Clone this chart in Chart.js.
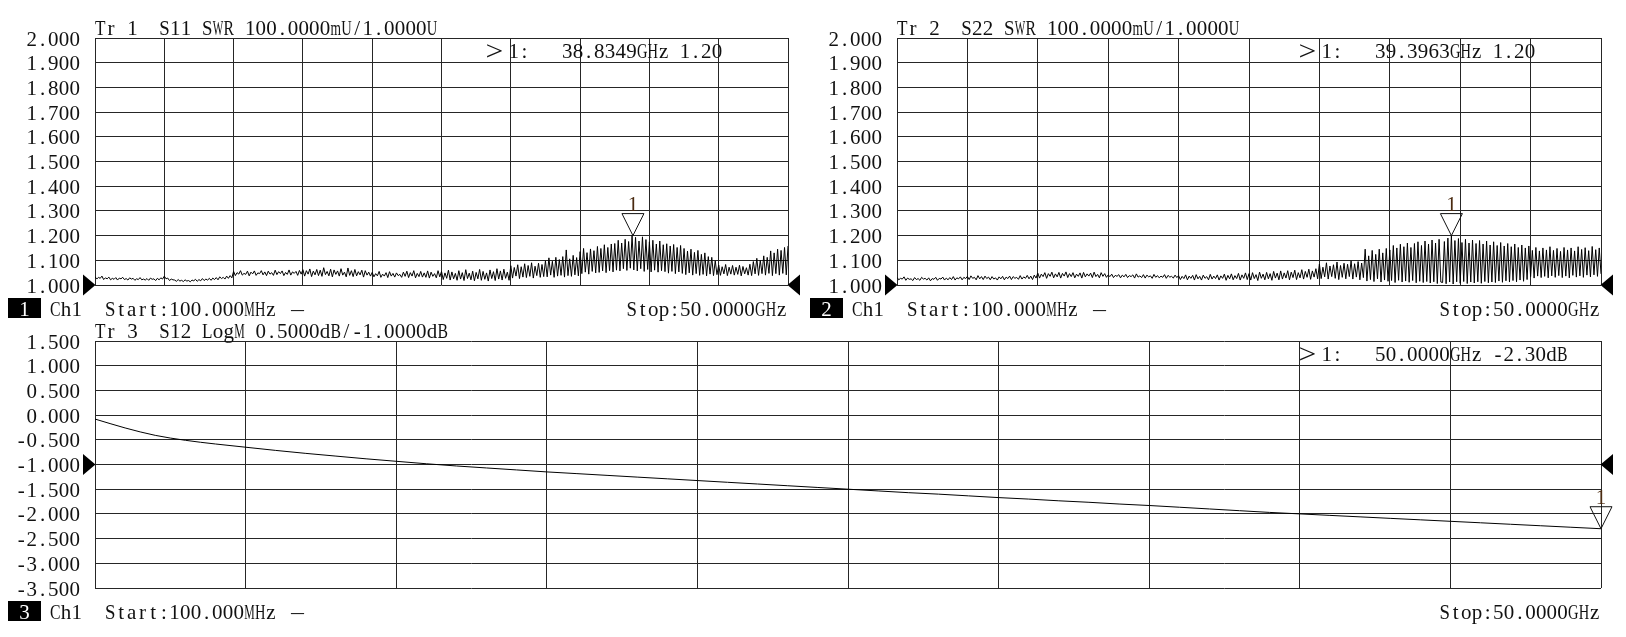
<!DOCTYPE html>
<html><head><meta charset="utf-8">
<script src="https://cdn.jsdelivr.net/npm/chart.js@4.4.1/dist/chart.umd.min.js"></script>
<style>
html,body{margin:0;padding:0;background:#fff;}
#wrap{position:relative;width:1626px;height:637px;overflow:hidden;background:#fff}
canvas{position:absolute;left:0;top:0}
</style></head><body>
<div id="wrap">
<canvas id="c1" width="1626" height="637"></canvas>
<canvas id="c2" width="1626" height="637"></canvas>
<canvas id="c3" width="1626" height="637"></canvas>
</div>
<script>
// ---- sweep ----
const startGHz = 0.1;
const stopGHz = 50.0;

// ---- Tr 1 : S11 SWR (401 points) ----
const s11Swr = [
1.034,1.024,1.031,1.027,1.036,1.022,1.029,1.025,1.032,1.021,
1.027,1.023,1.030,1.020,1.028,1.025,1.031,1.022,1.026,1.020,
1.029,1.024,1.027,1.019,1.025,1.022,1.030,1.021,1.024,1.020,
1.026,1.019,1.028,1.023,1.025,1.018,1.027,1.021,1.029,1.024,
1.036,1.025,1.028,1.018,1.024,1.021,1.020,1.015,1.022,1.016,
1.019,1.014,1.021,1.016,1.018,1.013,1.020,1.017,1.023,1.015,
1.022,1.017,1.026,1.018,1.024,1.020,1.027,1.019,1.028,1.022,
1.030,1.021,1.033,1.026,1.031,1.024,1.036,1.027,1.038,1.029,
1.055,1.038,1.050,1.044,1.058,1.040,1.047,1.043,1.056,1.037,
1.052,1.045,1.057,1.039,1.049,1.046,1.058,1.041,1.053,1.038,
1.056,1.044,1.050,1.039,1.060,1.042,1.054,1.046,1.057,1.038,
1.051,1.043,1.061,1.040,1.053,1.047,1.055,1.039,1.059,1.044,
1.062,1.036,1.058,1.044,1.065,1.034,1.056,1.041,1.063,1.038,
1.060,1.035,1.070,1.042,1.055,1.037,1.064,1.033,1.061,1.043,
1.057,1.036,1.066,1.040,1.052,1.033,1.069,1.039,1.058,1.034,
1.063,1.037,1.054,1.041,1.060,1.032,1.058,1.040,1.052,1.036,
1.051,1.033,1.046,1.037,1.055,1.031,1.044,1.036,1.050,1.030,
1.054,1.036,1.047,1.032,1.049,1.038,1.043,1.031,1.052,1.035,
1.056,1.030,1.050,1.036,1.058,1.029,1.047,1.034,1.055,1.032,
1.049,1.031,1.057,1.028,1.052,1.035,1.046,1.029,1.058,1.033,
1.055,1.022,1.049,1.027,1.060,1.020,1.053,1.025,1.047,1.019,
1.058,1.024,1.050,1.018,1.062,1.026,1.048,1.021,1.056,1.017,
1.051,1.025,1.063,1.019,1.055,1.023,1.049,1.016,1.061,1.026,
1.054,1.018,1.066,1.024,1.057,1.020,1.064,1.027,1.052,1.019,
1.078,1.028,1.071,1.036,1.082,1.026,1.074,1.032,1.086,1.030,
1.079,1.035,1.090,1.028,1.076,1.038,1.088,1.031,1.083,1.034,
1.098,1.033,1.110,1.040,1.096,1.031,1.112,1.036,1.103,1.039,
1.115,1.032,1.142,1.038,1.106,1.035,1.120,1.041,1.111,1.037,
1.135,1.046,1.148,1.052,1.131,1.044,1.146,1.055,1.139,1.049,
1.156,1.051,1.148,1.057,1.163,1.050,1.152,1.058,1.166,1.053,
1.168,1.060,1.181,1.057,1.170,1.066,1.185,1.059,1.176,1.068,
1.200,1.061,1.193,1.057,1.178,1.066,1.195,1.055,1.184,1.063,
1.175,1.053,1.181,1.060,1.166,1.052,1.178,1.058,1.163,1.054,
1.167,1.048,1.158,1.055,1.164,1.046,1.152,1.053,1.160,1.047,
1.148,1.042,1.137,1.049,1.145,1.040,1.132,1.046,1.140,1.039,
1.124,1.043,1.130,1.037,1.115,1.044,1.112,1.038,1.098,1.042,
1.081,1.039,1.074,1.045,1.083,1.038,1.072,1.044,1.079,1.040,
1.072,1.043,1.080,1.037,1.075,1.045,1.070,1.040,1.084,1.038,
1.095,1.045,1.108,1.039,1.100,1.046,1.118,1.040,1.112,1.047,
1.138,1.038,1.130,1.046,1.145,1.040,1.140,1.047,1.152,1.041,
1.158];

// ---- Tr 2 : S22 SWR (401 points) ----
const s22Swr = [
1.031,1.021,1.027,1.024,1.033,1.019,1.028,1.023,1.025,1.018,
1.030,1.022,1.026,1.019,1.031,1.024,1.027,1.020,1.029,1.017,
1.026,1.023,1.031,1.019,1.027,1.024,1.032,1.020,1.028,1.021,
1.030,1.022,1.034,1.020,1.029,1.025,1.033,1.021,1.031,1.026,
1.035,1.022,1.037,1.027,1.031,1.021,1.038,1.025,1.034,1.022,
1.036,1.026,1.032,1.021,1.034,1.024,1.029,1.020,1.033,1.025,
1.035,1.021,1.032,1.026,1.036,1.022,1.034,1.027,1.031,1.023,
1.038,1.024,1.033,1.027,1.039,1.025,1.036,1.022,1.040,1.028,
1.048,1.028,1.044,1.034,1.050,1.027,1.046,1.035,1.052,1.029,
1.045,1.033,1.051,1.028,1.047,1.036,1.053,1.030,1.046,1.034,
1.050,1.029,1.044,1.035,1.049,1.028,1.051,1.033,1.045,1.036,
1.048,1.030,1.052,1.034,1.043,1.029,1.050,1.035,1.046,1.031,
1.041,1.034,1.044,1.030,1.039,1.035,1.042,1.029,1.040,1.033,
1.043,1.030,1.038,1.034,1.041,1.028,1.045,1.032,1.037,1.030,
1.042,1.028,1.040,1.033,1.037,1.027,1.043,1.031,1.038,1.029,
1.036,1.031,1.042,1.027,1.039,1.032,1.035,1.028,1.040,1.030,
1.038,1.022,1.035,1.026,1.041,1.021,1.036,1.027,1.039,1.020,
1.042,1.025,1.035,1.020,1.040,1.027,1.034,1.021,1.043,1.024,
1.036,1.026,1.041,1.020,1.037,1.027,1.044,1.019,1.039,1.025,
1.045,1.021,1.038,1.026,1.047,1.020,1.041,1.027,1.049,1.022,
1.046,1.020,1.050,1.026,1.042,1.018,1.052,1.027,1.044,1.021,
1.051,1.025,1.046,1.019,1.055,1.028,1.048,1.021,1.057,1.024,
1.049,1.028,1.058,1.021,1.052,1.030,1.060,1.022,1.050,1.029,
1.062,1.024,1.055,1.031,1.064,1.023,1.057,1.032,1.066,1.025,
1.085,1.026,1.072,1.033,1.090,1.024,1.077,1.034,1.082,1.027,
1.093,1.022,1.079,1.031,1.088,1.025,1.084,1.034,1.098,1.024,
1.086,1.032,1.095,1.021,1.089,1.030,1.145,1.016,1.118,1.022,
1.140,1.014,1.124,1.025,1.145,1.012,1.130,1.020,1.148,1.015,
1.142,1.018,1.160,1.010,1.150,1.019,1.165,1.012,1.155,1.016,
1.170,1.011,1.152,1.018,1.168,1.009,1.175,1.015,1.160,1.010,
1.178,1.014,1.166,1.008,1.182,1.013,1.170,1.006,1.185,1.012,
1.010,1.176,1.005,1.190,1.012,1.200,1.004,1.180,1.013,1.188,
1.007,1.172,1.014,1.185,1.006,1.170,1.012,1.182,1.008,1.168,
1.013,1.180,1.007,1.166,1.014,1.178,1.009,1.162,1.012,1.175,
1.010,1.160,1.016,1.172,1.011,1.158,1.017,1.168,1.012,1.155,
1.018,1.166,1.013,1.152,1.020,1.162,1.015,1.150,1.022,1.158,
1.034,1.140,1.028,1.152,1.036,1.138,1.030,1.150,1.035,1.142,
1.029,1.155,1.037,1.140,1.031,1.148,1.038,1.136,1.030,1.152,
1.036,1.142,1.029,1.150,1.039,1.138,1.032,1.155,1.037,1.144,
1.031,1.151,1.040,1.139,1.033,1.156,1.041,1.143,1.035,1.150,
1.045];

// ---- Tr 3 : S12 LogM dB (51 points) ----
const s12LogM = [
-0.08,-0.26,-0.41,-0.51,-0.585,-0.65,-0.715,-0.775,-0.83,-0.885,
-0.935,-0.985,-1.03,-1.07,-1.11,-1.15,-1.185,-1.22,-1.255,-1.29,
-1.325,-1.36,-1.395,-1.43,-1.465,-1.50,-1.535,-1.57,-1.60,-1.635,
-1.67,-1.70,-1.735,-1.765,-1.80,-1.83,-1.865,-1.90,-1.935,-1.97,
-2.00,-2.03,-2.06,-2.09,-2.12,-2.15,-2.18,-2.21,-2.24,-2.27,
-2.30];

// ---- tick labels ----
const swrTickLabels = ['2.000','1.900','1.800','1.700','1.600','1.500','1.400','1.300','1.200','1.100','1.000'];
const logTickLabels = ['1.500','1.000','0.500','0.000','-0.500','-1.000','-1.500','-2.000','-2.500','-3.000','-3.500'];

// ---- markers ----
const markerFreqs = [38.8349, 39.3963, 50.0000];
const markerValues = [1.20, 1.20, -2.30];
const markerTexts = ['>1:   38.8349GHz 1.20', '>1:   39.3963GHz 1.20', '>1:   50.0000GHz -2.30dB'];
const traceTitles = ['Tr 1  S11 SWR 100.0000mU/1.0000U', 'Tr 2  S22 SWR 100.0000mU/1.0000U', 'Tr 3  S12 LogM 0.5000dB/-1.0000dB'];
const refLevels = [1.0, 1.0, -1.0];
const startText = 'Start:100.000MHz';
const stopText = 'Stop:50.0000GHz';

// ---------- drawing helpers ----------
const CW = 10.7;
const FONT = '21px "Liberation Serif"';
function mono(ctx, s, x, y, opt) {
  opt = opt || {};
  ctx.save();
  ctx.font = FONT; ctx.textBaseline = 'alphabetic'; ctx.textAlign = 'left';
  ctx.fillStyle = opt.color || '#111';
  const chars = [...s];
  const cells = chars.map(ch => (ch === '>' || ch === '—') ? 2 : 1);
  const total = cells.reduce((a, b) => a + b, 0) * CW;
  let cx = opt.align === 'right' ? x - total : (opt.align === 'center' ? x - total / 2 : x);
  chars.forEach((ch, k) => {
    const w = cells[k] * CW;
    if (ch !== ' ') {
      const mw = ctx.measureText(ch).width;
      let maxw = w * 0.98;
      if (ch === '—') maxw = 13;
      ctx.save();
      if (ch === '>') {
        ctx.translate(cx - 1.5, y - 7); ctx.scale(1.5, 1.3); ctx.fillText(ch, 0, 7 / 1.3 + 1.5);
      } else if (mw > maxw || ch === '—') {
        ctx.translate(cx + (w - maxw) / 2, y); ctx.scale(maxw / mw, 1); ctx.fillText(ch, 0, 0);
      } else {
        ctx.fillText(ch, cx + (w - mw) / 2, y);
      }
      ctx.restore();
    }
    cx += w;
  });
  ctx.restore();
}

function sweepPoints(vals) {
  const n = vals.length;
  return vals.map((v, i) => ({ x: startGHz + i * (stopGHz - startGHz) / (n - 1), y: v }));
}

const W = 1626, H = 637;
const panels = [
  { id: 'c1', area: { l: 95, t: 38, r: 788, b: 285 }, vals: s11Swr, yMin: 1, yMax: 2, yStep: 0.1, labels: swrTickLabels, k: 0, smooth: false },
  { id: 'c2', area: { l: 897, t: 38, r: 1601, b: 285 }, vals: s22Swr, yMin: 1, yMax: 2, yStep: 0.1, labels: swrTickLabels, k: 1, smooth: false },
  { id: 'c3', area: { l: 95, t: 341, r: 1601, b: 588 }, vals: s12LogM, yMin: -3.5, yMax: 1.5, yStep: 0.5, labels: logTickLabels, k: 2, smooth: true }
];

function makeDecor(p) {
  return {
    id: 'decor' + p.k,
    afterDraw(chart) {
      const ctx = chart.ctx;
      const ca = chart.chartArea;
      const xs = chart.scales.x, ys = chart.scales.y;
      mono(ctx, traceTitles[p.k], ca.left, ca.top - 3);
      p.labels.forEach(l => {
        const yy = ys.getPixelForValue(parseFloat(l));
        mono(ctx, l, ca.left - 15, yy + 7.5, { align: 'right' });
      });
      const sy = ca.bottom + 31;
      ctx.fillStyle = '#000';
      ctx.fillRect(ca.left - 87, ca.bottom + 13, 33, 20);
      mono(ctx, String(p.k + 1), ca.left - 70.5, sy, { align: 'center', color: '#fff' });
      mono(ctx, 'Ch1', ca.left - 45, sy);
      mono(ctx, startText + ' —', ca.left + 10, sy);
      mono(ctx, stopText, ca.right - 1, sy, { align: 'right' });
      const ry = ys.getPixelForValue(refLevels[p.k]);
      ctx.fillStyle = '#000';
      ctx.beginPath(); ctx.moveTo(ca.left - 12, ry - 10.5); ctx.lineTo(ca.left + 0.5, ry); ctx.lineTo(ca.left - 12, ry + 10.5); ctx.closePath(); ctx.fill();
      ctx.beginPath(); ctx.moveTo(ca.right + 12, ry - 10.5); ctx.lineTo(ca.right - 0.5, ry); ctx.lineTo(ca.right + 12, ry + 10.5); ctx.closePath(); ctx.fill();
      const mx = xs.getPixelForValue(markerFreqs[p.k]);
      const my = ys.getPixelForValue(markerValues[p.k]);
      ctx.save();
      ctx.strokeStyle = '#111'; ctx.lineWidth = 1;
      ctx.beginPath(); ctx.moveTo(mx, my); ctx.lineTo(mx - 11, my - 22); ctx.lineTo(mx + 11, my - 22); ctx.closePath(); ctx.stroke();
      ctx.restore();
      mono(ctx, '1', mx, my - 25, { align: 'center', color: '#4a2a10' });
      mono(ctx, markerTexts[p.k], ca.right - 301, ca.top + 20);
    }
  };
}

const xGrid = [];
for (let k = 0; k <= 10; k++) xGrid.push(startGHz + k * (stopGHz - startGHz) / 10);

const GRID = '#262626';
panels.forEach(p => {
  const cv = document.getElementById(p.id);
  const chart = new Chart(cv, {
    type: 'line',
    data: { datasets: [{ data: sweepPoints(p.vals), borderColor: '#000', borderWidth: 1, pointRadius: 0, tension: 0,
      cubicInterpolationMode: p.smooth ? 'monotone' : 'default', fill: false }] },
    options: {
      responsive: false, animation: false, devicePixelRatio: 1,
      layout: { padding: { left: p.area.l, top: p.area.t, right: W - p.area.r, bottom: H - p.area.b } },
      plugins: { legend: { display: false }, tooltip: { enabled: false }, title: { display: false } },
      scales: {
        x: { type: 'linear', min: startGHz, max: stopGHz,
          afterBuildTicks: s => { s.ticks = xGrid.map(v => ({ value: v })); },
          ticks: { display: false }, grid: { color: GRID, lineWidth: 1, drawTicks: false }, border: { display: false } },
        y: { type: 'linear', min: p.yMin, max: p.yMax, ticks: { display: false, stepSize: p.yStep },
          grid: { color: GRID, lineWidth: 1, drawTicks: false }, border: { display: false } }
      }
    },
    plugins: [makeDecor(p)]
  });
  for (let it = 0; it < 4; it++) {
    const ca = chart.chartArea, pad = chart.options.layout.padding;
    const dl = p.area.l - ca.left, dt = p.area.t - ca.top, dr = ca.right - p.area.r, db = ca.bottom - p.area.b;
    if (!dl && !dt && !dr && !db) break;
    pad.left += dl; pad.top += dt; pad.right += dr; pad.bottom += db;
    chart.update('none');
  }
});
</script>
</body></html>
